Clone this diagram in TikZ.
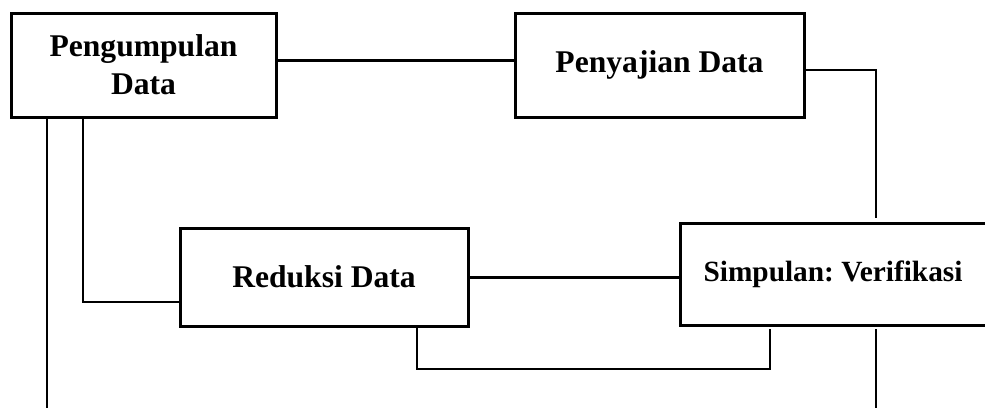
\documentclass[tikz,border=0pt]{standalone}
\usepackage{fontspec}
\setmainfont{Liberation Serif}
\frenchspacing
\begin{document}
\begin{tikzpicture}[x=0.75pt,y=-0.75pt,
  box/.style={draw,line width=2.25pt,rectangle,inner sep=0pt,align=center,
    font=\fontsize{23.7}{28.5}\selectfont\bfseries},
  thickline/.style={line width=2.25pt},
  thinline/.style={line width=1.6pt},
  longline/.style={line width=1.9pt}]
\useasboundingbox (0,0) rectangle (985,407);
\clip (0,0) rectangle (985,407);
\node[box,minimum width=265*0.75pt,minimum height=104*0.75pt] (P1) at (143.5,65) {Pengumpulan\\Data};
\node[box,minimum width=289*0.75pt,minimum height=104*0.75pt] (P2) at (659.5,65) {\raisebox{3.5pt}{Penyajian Data}};
\node[box,minimum width=288*0.75pt,minimum height=98*0.75pt] (R) at (324,277) {Reduksi Data};
\node[box,minimum width=320*0.75pt,minimum height=102*0.75pt,font=\fontsize{22}{26}\selectfont\bfseries] (S) at (840,274) {\hspace*{-10.5pt}\raisebox{1.5pt}{Simpulan: Verifikasi}};
\coordinate (xr) at (876,0);
\coordinate (xm) at (770,0);
\coordinate (xl) at (417,0);
\coordinate (xa) at (83,0);
\coordinate (xb) at (47,0);
\coordinate (k1) at (770,369);
\coordinate (k2) at (417,369);
\coordinate (bR) at (876,410);
\coordinate (bL) at (47,410);
% Pengumpulan -- Penyajian
\draw[thickline] ([yshift=3.75pt]P1.east) -- ([yshift=3.75pt]P2.west);
% Penyajian -- Simpulan
\draw[thinline] ([yshift=-3.75pt]P2.east) -| ([yshift=3pt]S.north -| xr);
% Simpulan down to edge
\draw[longline] ([yshift=-2pt]S.south -| xr) -- (bR);
% Simpulan -- Reduksi (bottom loop)
\draw[thinline] ([yshift=-2pt]S.south -| xm) -- (k1) -- (k2) -- (R.south -| xl);
% Reduksi -- Simpulan
\draw[thickline] (R.east) -- (R.east -| S.west);
% Pengumpulan -- Reduksi
\draw[thinline] (P1.south -| xa) |- ([yshift=-18.75pt]R.west);
% Pengumpulan down to edge
\draw[longline] (P1.south -| xb) -- (bL);
\end{tikzpicture}
\end{document}
